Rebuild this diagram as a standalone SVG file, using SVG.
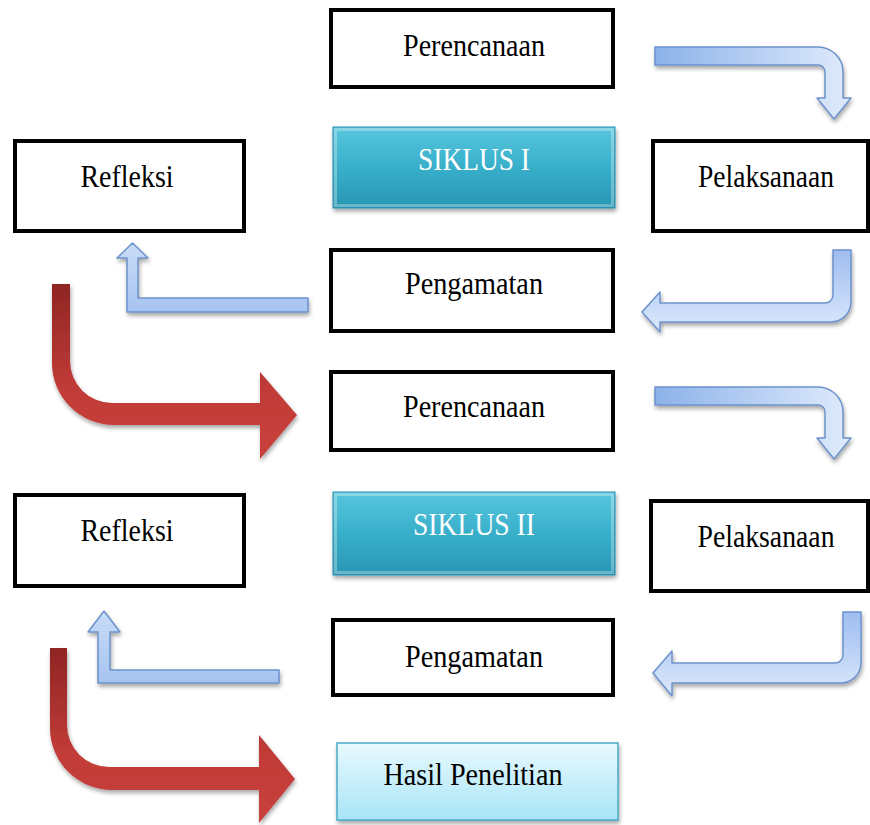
<svg xmlns="http://www.w3.org/2000/svg" width="870" height="825" viewBox="0 0 870 825">
<defs>
  <linearGradient id="gBlueH" x1="0" y1="0" x2="1" y2="0">
    <stop offset="0" stop-color="#8cb2ea"/>
    <stop offset="1" stop-color="#e0ebfc"/>
  </linearGradient>
  <linearGradient id="gBlueV" x1="0" y1="0" x2="0" y2="1">
    <stop offset="0" stop-color="#9ebdf0"/>
    <stop offset="1" stop-color="#dde9fc"/>
  </linearGradient>
  <linearGradient id="gBlueUp" x1="0" y1="0" x2="0" y2="1">
    <stop offset="0" stop-color="#c9dcf8"/>
    <stop offset="1" stop-color="#a6c4f0"/>
  </linearGradient>
  <linearGradient id="gRed" x1="0" y1="0" x2="0" y2="1">
    <stop offset="0" stop-color="#8f2523"/>
    <stop offset="0.6" stop-color="#c13b37"/>
    <stop offset="1" stop-color="#c9413c"/>
  </linearGradient>
  <linearGradient id="gTeal" x1="0" y1="0" x2="0" y2="1">
    <stop offset="0" stop-color="#58c6de"/>
    <stop offset="0.5" stop-color="#38afca"/>
    <stop offset="1" stop-color="#2896b4"/>
  </linearGradient>
  <linearGradient id="gLight" x1="0" y1="0" x2="0" y2="1">
    <stop offset="0" stop-color="#e8f9fe"/>
    <stop offset="1" stop-color="#a8e5f7"/>
  </linearGradient>
  <filter id="shadow" x="-10%" y="-10%" width="130%" height="140%">
    <feGaussianBlur in="SourceAlpha" stdDeviation="2"/>
    <feOffset dx="1" dy="3" result="b"/>
    <feComponentTransfer><feFuncA type="linear" slope="0.35"/></feComponentTransfer>
    <feMerge><feMergeNode/><feMergeNode in="SourceGraphic"/></feMerge>
  </filter>
</defs>
<style>
  .box { fill: #ffffff; stroke: #000000; stroke-width: 4; }
  .teal { fill: url(#gTeal); stroke: #2a8fae; stroke-width: 1; filter: url(#shadow); }
  .bevel { fill: none; stroke: #ffffff; stroke-opacity: 0.3; stroke-width: 3; }
  .light { fill: url(#gLight); stroke: #4aa9c6; stroke-width: 1.5; filter: url(#shadow); }
  .lbl { font-family: "Liberation Serif", "Times New Roman", serif; font-size: 32px; fill: #000000; text-anchor: middle; }
  .wlbl { font-family: "Liberation Serif", "Times New Roman", serif; font-size: 32px; fill: #ffffff; text-anchor: middle; }
  .bl { stroke: #6c92cc; stroke-width: 1.5; stroke-linejoin: round; filter: url(#shadow); }
  .red { fill: url(#gRed); filter: url(#shadow); }
</style>

<g id="connectors">
  <path class="bl" fill="url(#gBlueH)" d="M655,47 H818 A25,25 0 0 1 843,72 V98 H851 L834,119 L817,98 H825 V72 A7,7 0 0 0 818,65 H655 Z"/>
  <path class="bl" fill="url(#gBlueV)" d="M833,250 H851 V302 A20,20 0 0 1 831,322 H660 V332 L642,312 L660,292 V303 H825 A8,8 0 0 0 833,295 Z"/>
  <path class="bl" fill="url(#gBlueUp)" d="M308,298 H138 V258 H148 L132.5,243 L117,258 H127 V312 H308 Z"/>
  <path class="red" d="M52,284 H70 V361 A42,42 0 0 0 112,403 H260 V372 L297,415 L260,459 V425 H114 A62,62 0 0 1 52,363 Z"/>
  <path class="bl" fill="url(#gBlueH)" transform="translate(0,340)" d="M655,47 H818 A25,25 0 0 1 843,72 V98 H851 L834,119 L817,98 H825 V72 A7,7 0 0 0 818,65 H655 Z"/>
  <path class="bl" fill="url(#gBlueV)" d="M843,612 H861 V663 A20,20 0 0 1 841,683 H672 V696 L653,673 L672,651 V663 H835 A8,8 0 0 0 843,655 Z"/>
  <path class="bl" fill="url(#gBlueUp)" d="M279,670 H110 V632 H120 L104,611 L88,632 H98 V683 H279 Z"/>
  <path class="red" d="M50,648 H67 V725 A42,42 0 0 0 109,767 H259 V735 L295,779 L259,823 V790 H112 A62,62 0 0 1 50,728 Z"/>
</g>

<g id="perencanaan1">
  <rect class="box" x="331" y="10" width="282" height="77"/>
  <text class="lbl" x="474" y="56" textLength="142" lengthAdjust="spacingAndGlyphs">Perencanaan</text>
</g>
<g id="siklus1">
  <rect class="teal" x="333" y="127" width="282" height="81"/>
  <rect class="bevel" x="335.5" y="129.5" width="277" height="76"/>
  <text class="wlbl" x="474" y="170" textLength="112" lengthAdjust="spacingAndGlyphs">SIKLUS I</text>
</g>
<g id="refleksi1">
  <rect class="box" x="15" y="141" width="229" height="90"/>
  <text class="lbl" x="127" y="187" textLength="93" lengthAdjust="spacingAndGlyphs">Refleksi</text>
</g>
<g id="pelaksanaan1">
  <rect class="box" x="653" y="141" width="215" height="90"/>
  <text class="lbl" x="766" y="187" textLength="136" lengthAdjust="spacingAndGlyphs">Pelaksanaan</text>
</g>
<g id="pengamatan1">
  <rect class="box" x="331" y="250" width="282" height="81"/>
  <text class="lbl" x="474" y="294" textLength="138" lengthAdjust="spacingAndGlyphs">Pengamatan</text>
</g>
<g id="perencanaan2">
  <rect class="box" x="331" y="372" width="282" height="78"/>
  <text class="lbl" x="474" y="417" textLength="142" lengthAdjust="spacingAndGlyphs">Perencanaan</text>
</g>
<g id="siklus2">
  <rect class="teal" x="333" y="492" width="282" height="83"/>
  <rect class="bevel" x="335.5" y="494.5" width="277" height="78"/>
  <text class="wlbl" x="474" y="535" textLength="122" lengthAdjust="spacingAndGlyphs">SIKLUS II</text>
</g>
<g id="refleksi2">
  <rect class="box" x="15" y="495" width="229" height="91"/>
  <text class="lbl" x="127" y="541" textLength="93" lengthAdjust="spacingAndGlyphs">Refleksi</text>
</g>
<g id="pelaksanaan2">
  <rect class="box" x="651" y="501" width="217" height="90"/>
  <text class="lbl" x="766" y="547" textLength="137" lengthAdjust="spacingAndGlyphs">Pelaksanaan</text>
</g>
<g id="pengamatan2">
  <rect class="box" x="333" y="620" width="280" height="75"/>
  <text class="lbl" x="474" y="667" textLength="138" lengthAdjust="spacingAndGlyphs">Pengamatan</text>
</g>
<g id="hasil">
  <rect class="light" x="337" y="743" width="281" height="77"/>
  <text class="lbl" x="473" y="785" textLength="179" lengthAdjust="spacingAndGlyphs">Hasil Penelitian</text>
</g>
</svg>
